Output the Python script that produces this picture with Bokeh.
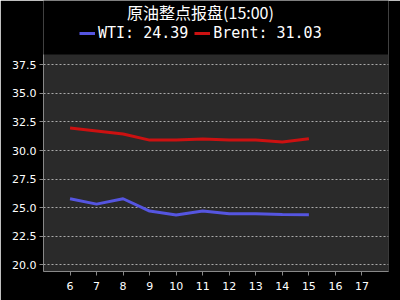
from bokeh.plotting import figure
from bokeh.models import (Range1d, Legend, LegendItem, FixedTicker, Label,
                          NumeralTickFormatter, BoxAnnotation)
from bokeh.embed import file_html
from bokeh.resources import INLINE

hours = [6, 7, 8, 9, 10, 11, 12, 13, 14, 15]
wti = [25.78, 25.31, 25.78, 24.70, 24.35, 24.70, 24.46, 24.46, 24.40, 24.39]
brent = [31.96, 31.70, 31.44, 30.91, 30.91, 31.00, 30.91, 30.91, 30.74, 31.03]
x_ticks = [6, 7, 8, 9, 10, 11, 12, 13, 14, 15, 16, 17]
y_ticks = [20.0, 22.5, 25.0, 27.5, 30.0, 32.5, 35.0, 37.5]
title_text = "原油整点报盘(15:00)"
wti_label = "WTI: 24.39"
brent_label = "Brent: 31.03"

Y_MIN, Y_MAX = 19.414, 38.4      # visible value range of the plot area
Y_FRAME_TOP = 43.126             # frame extends up under the header
FL, FB = 43, 271                 # frame left / bottom in canvas pixels

p = figure(width=400, height=300, output_backend="svg", toolbar_location=None,
           x_range=Range1d(5, 18), y_range=Range1d(Y_MIN, Y_FRAME_TOP),
           min_border_left=FL, min_border_right=12, min_border_top=0,
           min_border_bottom=300 - FB)
p.background_fill_color = "#000000"
p.border_fill_color = "#000000"
p.outline_line_color = None

plot_bg = BoxAnnotation(top=Y_MAX, fill_color="#2a2a2a", fill_alpha=1,
                        line_color=None, level="image")
p.add_layout(plot_bg)

title = Label(x=200 - FL, y=FB - 11, x_units="screen", y_units="screen",
              text=title_text, text_align="center", text_baseline="middle",
              text_color="#ffffff", text_font="Noto Sans CJK SC",
              text_font_size="16px")
p.add_layout(title)

r1 = p.line(hours, wti, line_color="#5555e0", line_width=3)
r2 = p.line(hours, brent, line_color="#cc1111", line_width=3)

legend = Legend(items=[LegendItem(label=wti_label, renderers=[r1]),
                       LegendItem(label=brent_label, renderers=[r2])],
                orientation="horizontal", location=(79 - FL, FB - 42),
                background_fill_alpha=0, border_line_alpha=0,
                label_text_color="#ffffff", label_text_font="DejaVu Sans Mono",
                label_text_font_size="15px", glyph_width=16, glyph_height=4,
                spacing=6, padding=0, margin=0, label_standoff=3,
                label_height=18)
p.add_layout(legend)

p.xgrid.visible = False
p.ygrid.grid_line_color = "#aaaaaa"
p.ygrid.grid_line_dash = "2 2"
p.ygrid.grid_line_width = 1

for ax in (p.xaxis, p.yaxis):
    ax.axis_line_color = "#888888"
    ax.major_tick_line_color = "#888888"
    ax.minor_tick_line_color = None
    ax.major_tick_in = 0
    ax.major_tick_out = 4
    ax.major_label_text_color = "#ffffff"
    ax.major_label_text_font = "DejaVu Sans"
    ax.major_label_text_font_size = "11px"

p.xaxis.ticker = FixedTicker(ticks=x_ticks)
p.yaxis.ticker = FixedTicker(ticks=y_ticks)
p.yaxis.bounds = (Y_MIN, Y_MAX)
p.yaxis.formatter = NumeralTickFormatter(format="0.0")
p.yaxis.major_label_standoff = 3
p.xaxis.major_label_standoff = 6

open("out.html", "w").write(file_html(p, INLINE))
